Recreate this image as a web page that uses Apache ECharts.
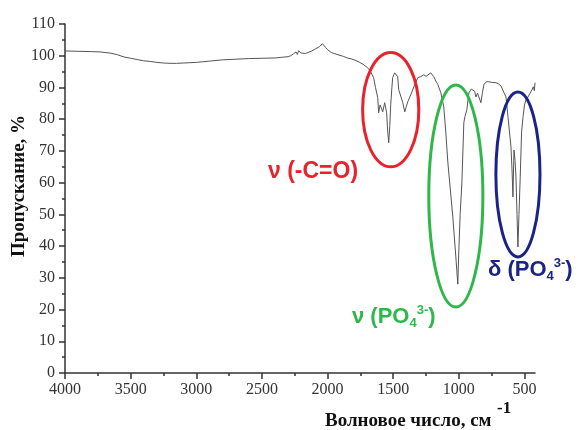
<!DOCTYPE html>
<html><head><meta charset="utf-8">
<script src="https://cdn.jsdelivr.net/npm/echarts@6/dist/echarts.min.js"></script>
<style>html,body{margin:0;padding:0;background:#fff}#c{width:579px;height:430px}</style>
</head><body><div id="c"></div>
<script>
// Wavenumber (cm-1) and transmittance (%)
const wavenumbers = [4000,3900,3800,3733,3650,3600,3550,3500,3450,3400,3350,3300,3250,3200,3150,3100,3050,3000,2950,2900,2850,2800,2700,2600,2500,2400,2350,2300,2280,2260,2240,2230,2220,2205,2190,2170,2150,2120,2090,2060,2040,2030,2015,2000,1985,1970,1950,1920,1880,1850,1820,1790,1760,1730,1700,1680,1660,1649,1635,1618,1611,1600,1590,1580,1565,1550,1542,1534,1526,1519,1510,1504,1489,1475,1466,1458,1443,1427,1412,1400,1389,1366,1343,1313,1290,1267,1250,1237,1214,1200,1191,1175,1160,1137,1115,1099,1084,1076,1046,1023,1008,1000,990,977,962,954,946,939,924,905,893,880,870,858,847,832,820,809,790,771,750,718,700,679,656,641,626,612,603,595,588,580,572,565,557,550,542,534,522,511,500,489,473,460,450,440,433,425,420];
const transmittance = [101.5,101.4,101.3,101.2,100.8,100.3,99.6,99.2,98.8,98.4,98.2,97.9,97.7,97.6,97.6,97.7,97.8,97.9,98.1,98.3,98.5,98.7,98.9,99.1,99.2,99.3,99.5,99.7,100.0,100.6,101.2,100.4,101.6,100.9,101.3,100.7,101.0,101.5,102.2,102.9,103.8,103.3,102.6,101.9,101.4,101.0,100.7,100.3,99.8,99.3,99.0,98.6,98.0,97.3,96.4,95.5,94.0,93.1,90.0,86.8,82.0,84.5,83.5,82.3,85.2,82.0,76.0,72.6,78.0,84.5,90.0,93.1,94.6,94.2,93.4,89.3,89.9,85.2,82.3,84.0,85.5,87.7,90.2,93.1,93.4,94.0,93.5,93.1,94.6,94.2,93.4,92.0,90.9,88.3,83.9,75.7,66.5,66.2,49.2,36.6,28.0,38.8,50.0,59.9,78.9,80.8,81.0,83.0,88.3,89.5,89.9,88.8,87.0,88.2,88.6,85.2,88.5,90.9,91.8,91.8,91.6,91.5,91.2,90.5,88.3,87.0,80.8,75.0,71.3,64.0,55.5,70.3,67.0,61.8,50.0,39.7,50.0,59.9,76.0,80.8,84.5,86.1,87.0,88.0,88.3,89.5,90.2,89.0,91.5];

const xTickValues = [500,1000,1500,2000,2500,3000,3500,4000];
const xMinorTickValues = [750,1250,1750,2250,2750,3250,3750];

// Annotation ellipses in data units: centre (cm-1, %) and half-axes
const ellipseNames = ['C=O','PO4 stretch','PO4 bend'];
const ellipseCx = [1519, 1023, 550];
const ellipseCy = [83, 55.8, 62.6];
const ellipseRx = [214, 206, 168];
const ellipseRy = [18, 35, 26];
const ellipseColors = ['#e8232b', '#2fb84a', '#1b2386'];

const chart = echarts.init(document.getElementById('c'));
const serif = 'Liberation Serif';
const sans = 'Liberation Sans';
const axisColor = '#333';

const option = {
  animation: false,
  backgroundColor: '#fff',
  grid: { left: 65, right: 44, top: 24, bottom: 57 },
  xAxis: [{
    type: 'value', inverse: true, min: 420, max: 4000, position: 'bottom', offset: 0,
    axisLine: { show: true, onZero: false, lineStyle: { color: axisColor, width: 1.5 } },
    axisTick: { show: true, customValues: xTickValues, length: 6, lineStyle: { color: axisColor, width: 1.5 } },
    axisLabel: { customValues: xTickValues, formatter: v => String(v), fontFamily: serif, fontSize: 16, color: '#333', margin: 9 },
    splitLine: { show: false }
  }, {
    type: 'value', inverse: true, min: 420, max: 4000, position: 'bottom', offset: 0,
    axisLine: { show: true, onZero: false, lineStyle: { color: axisColor, width: 0, opacity: 0 } },
    axisTick: { show: true, customValues: xMinorTickValues, length: 3, lineStyle: { color: axisColor, width: 1.5 } },
    axisLabel: { show: true, customValues: xMinorTickValues, formatter: () => '' },
    splitLine: { show: false }
  }],
  yAxis: {
    type: 'value', min: 0, max: 110, interval: 10,
    axisLine: { show: true, onZero: false, lineStyle: { color: axisColor, width: 1.5 } },
    axisTick: { show: true, length: 6, lineStyle: { color: axisColor, width: 1.5 } },
    minorTick: { show: true, splitNumber: 2, length: 3, lineStyle: { color: axisColor, width: 1.5 } },
    axisLabel: { fontFamily: serif, fontSize: 16, color: '#333', margin: 10 },
    splitLine: { show: false }
  },
  series: [{
    type: 'line',
    data: wavenumbers.map((w, i) => [w, transmittance[i]]),
    showSymbol: false, symbol: 'none',
    lineStyle: { color: '#555', width: 1 },
    xAxisIndex: 0, yAxisIndex: 0
  }]
};
chart.setOption(option);

const toPx = (x, y) => chart.convertToPixel({ xAxisIndex: 0, yAxisIndex: 0 }, [x, y]);
const graphics = [];
ellipseCx.forEach((cx, i) => {
  const c = toPx(cx, ellipseCy[i]);
  const ex = toPx(cx + ellipseRx[i], ellipseCy[i]);
  const ey = toPx(cx, ellipseCy[i] + ellipseRy[i]);
  graphics.push({
    type: 'ellipse', silent: true, z: 10,
    shape: { cx: c[0], cy: c[1], rx: Math.abs(ex[0] - c[0]), ry: Math.abs(ey[1] - c[1]) },
    style: { fill: 'none', stroke: ellipseColors[i], lineWidth: 3 }
  });
});

const richFor = (color, size) => ({
  n: { fontFamily: sans, fontWeight: 'bold', fontSize: size, fill: color, lineHeight: size + 4 },
  sub: { fontFamily: sans, fontWeight: 'bold', fontSize: Math.round(size * 0.6), fill: color, lineHeight: 12, verticalAlign: 'bottom' },
  sup: { fontFamily: sans, fontWeight: 'bold', fontSize: Math.round(size * 0.6), fill: color, lineHeight: 12, verticalAlign: 'top' }
});

graphics.push({
  type: 'text', left: 268, top: 160, z: 11,
  style: { text: 'ν (-C=O)', fontFamily: sans, fontWeight: 'bold', fontSize: 23, fill: ellipseColors[0] }
});
graphics.push({
  type: 'text', left: 352, top: 304, z: 11,
  style: { text: '{n|ν (PO}{sub|4}{sup|3-}{n|)}', fill: ellipseColors[1], rich: richFor(ellipseColors[1], 22) }
});
graphics.push({
  type: 'text', left: 488, top: 257, z: 11,
  style: { text: '{n|δ (PO}{sub|4}{sup|3-}{n|)}', fill: ellipseColors[2], rich: richFor(ellipseColors[2], 22) }
});
// axis titles
graphics.push({
  type: 'text', x: 325, y: 421, z: 11,
  style: { text: 'Волновое число, см', fontFamily: serif, fontWeight: 'bold', fontSize: 19, fill: '#111', verticalAlign: 'middle', align: 'left' }
});
graphics.push({
  type: 'text', x: 497, y: 409, z: 11,
  style: { text: '-1', fontFamily: serif, fontWeight: 'bold', fontSize: 17, fill: '#111', verticalAlign: 'middle', align: 'left' }
});
graphics.push({
  type: 'text', x: 19, y: 186, rotation: Math.PI / 2, z: 11,
  style: { text: 'Пропускание, %', fontFamily: serif, fontWeight: 'bold', fontSize: 19, fill: '#111', verticalAlign: 'middle', align: 'center' }
});

chart.setOption({ graphic: graphics });
</script>
</body></html>
